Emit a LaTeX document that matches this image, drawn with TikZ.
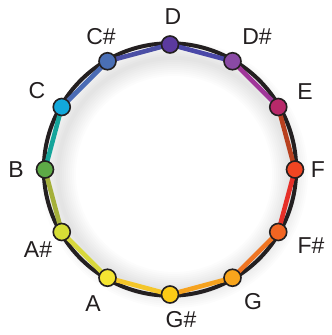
\documentclass[tikz,border=0pt]{standalone}
\usepackage{fontspec}
\setmainfont{Liberation Sans}
\definecolor{txt}{HTML}{231F20}
\definecolor{cD}{HTML}{5B3A9E}
\definecolor{cDs}{HTML}{8A4AA5}
\definecolor{cE}{HTML}{B8296A}
\definecolor{cF}{HTML}{F04522}
\definecolor{cFs}{HTML}{F26522}
\definecolor{cG}{HTML}{F8A51C}
\definecolor{cGs}{HTML}{FDCB15}
\definecolor{cA}{HTML}{F4E532}
\definecolor{cAs}{HTML}{D6DE36}
\definecolor{cB}{HTML}{5DAA46}
\definecolor{cC}{HTML}{12A8DB}
\definecolor{cCs}{HTML}{4A6FB5}
\definecolor{kCsD}{HTML}{4B4FA5}
\definecolor{kDDs}{HTML}{4A48A8}
\definecolor{kDsE}{HTML}{A0379A}
\definecolor{kEF}{HTML}{B8401E}
\definecolor{kFFs}{HTML}{E62F28}
\definecolor{kFsG}{HTML}{F07522}
\definecolor{kGGs}{HTML}{F6A21E}
\definecolor{kGsA}{HTML}{F4C62A}
\definecolor{kAAs}{HTML}{D8D83C}
\definecolor{kAsB}{HTML}{A5B03A}
\definecolor{kBC}{HTML}{15A59B}
\definecolor{kCCs}{HTML}{4B6CB5}
\tikzset{
  dot/.style={circle, draw=txt, line width=1.6pt, minimum size=17pt, inner sep=0pt},
  chord/.style={line width=4.6pt},
  ring/.style={draw=txt, line width=4pt},
  lab/.style={text=txt, font=\fontsize{23}{23}\selectfont, inner sep=0pt, anchor=center}
}
\begin{document}
\begin{tikzpicture}[x=1pt,y=-1pt]
\useasboundingbox (0,0) rectangle (332,335);
\fill[white] (0,0) rectangle (332,335);
% soft shadow
\foreach \w in {4,8,...,36} {
  \draw[black, opacity=0.012, line width=\w pt] (174,174) circle (116);
}
\coordinate (ctr) at (170,169.5);
\foreach \n/\a in {D/90,Ds/60,E/30,F/0,Fs/-30,G/-60,Gs/-90,A/-120,As/-150,B/180,C/150,Cs/120} {
  \coordinate (p\n) at ({170+125*cos(\a)},{169.5-125*sin(\a)});
}
% black outer arc
\draw[ring] (ctr) circle (126.2);
% coloured chords
\draw[chord, kCsD] (pCs) -- (pD);
\draw[chord, kDDs] (pD) -- (pDs);
\draw[chord, kDsE] (pDs) -- (pE);
\draw[chord, kEF] (pE) -- (pF);
\draw[chord, kFFs] (pF) -- (pFs);
\draw[chord, kFsG] (pFs) -- (pG);
\draw[chord, kGGs] (pG) -- (pGs);
\draw[chord, kGsA] (pGs) -- (pA);
\draw[chord, kAAs] (pA) -- (pAs);
\draw[chord, kAsB] (pAs) -- (pB);
\draw[chord, kBC] (pB) -- (pC);
\draw[chord, kCCs] (pC) -- (pCs);
% note dots
\node[dot, fill=cD] (nD) at (pD) {};
\node[dot, fill=cDs] (nDs) at (pDs) {};
\node[dot, fill=cE] (nE) at (pE) {};
\node[dot, fill=cF] (nF) at (pF) {};
\node[dot, fill=cFs] (nFs) at (pFs) {};
\node[dot, fill=cG] (nG) at (pG) {};
\node[dot, fill=cGs] (nGs) at (pGs) {};
\node[dot, fill=cA] (nA) at (pA) {};
\node[dot, fill=cAs] (nAs) at (pAs) {};
\node[dot, fill=cB] (nB) at (pB) {};
\node[dot, fill=cC] (nC) at (pC) {};
\node[dot, fill=cCs] (nCs) at (pCs) {};
% labels
\node[lab] (lD) at (173,17) {D};
\node[lab] (lDs) at (257,37) {D\#};
\node[lab] (lE) at (305,92) {E};
\node[lab] (lF) at (318,170) {F};
\node[lab] (lFs) at (311,246) {F\#};
\node[lab] (lG) at (253,302) {G};
\node[lab] (lGs) at (181,320) {G\#};
\node[lab] (lA) at (93,304) {A};
\node[lab] (lAs) at (38,250) {A\#};
\node[lab] (lB) at (16,170) {B};
\node[lab] (lC) at (37,91) {C};
\node[lab] (lCs) at (101,37) {C\#};
\end{tikzpicture}
\end{document}
